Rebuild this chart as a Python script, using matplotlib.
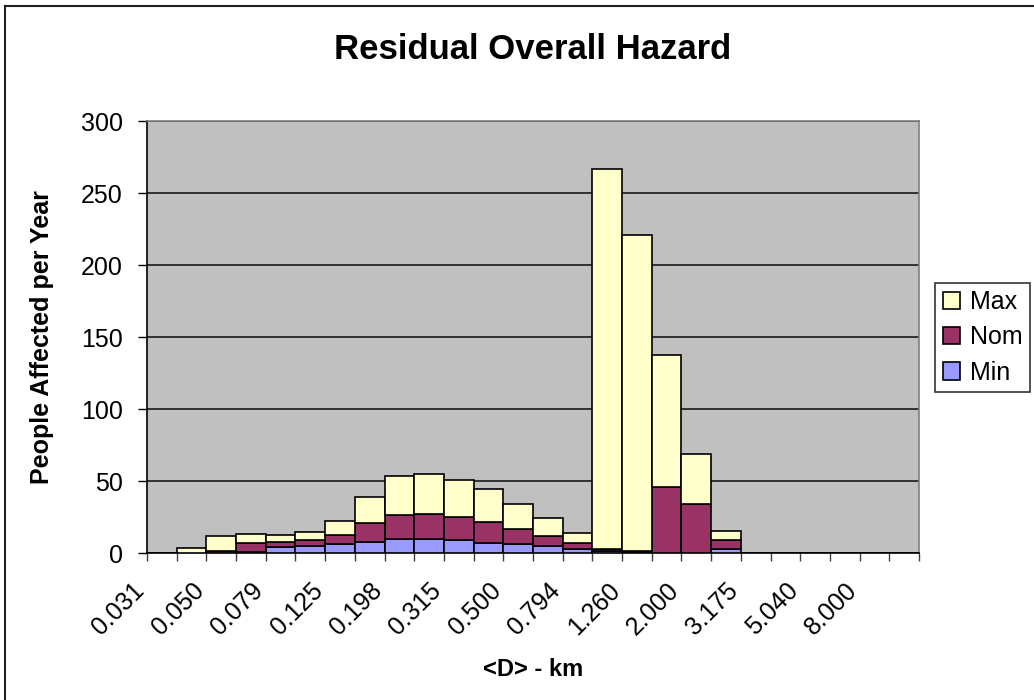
import numpy as np
import matplotlib
matplotlib.use("Agg")
import matplotlib.pyplot as plt
from matplotlib.lines import Line2D
from matplotlib.patches import Patch
from matplotlib.transforms import ScaledTranslation

plt.rcParams['font.family'] = ['Liberation Sans', 'DejaVu Sans']

# 26 distance bins (ratio 2^(1/3)); only every other bin is labelled
n_bins = 26
tick_labels = ['0.031', '0.050', '0.079', '0.125', '0.198', '0.315', '0.500',
               '0.794', '1.260', '2.000', '3.175', '5.040', '8.000']

# stacked segment heights, bottom to top
min_vals = [0, 0, 0.3, 0.9, 4.1, 5.3, 6.5, 7.6, 9.7, 9.7, 9.0, 7.1, 6.2,
            4.8, 2.8, 1.4, 0.9, 0, 0, 2.8, 0, 0, 0, 0, 0, 0]
nom_vals = [0, 0, 1.5, 6.2, 4.0, 3.7, 6.2, 13.1, 16.6, 17.3, 16.3, 14.6, 10.6,
            7.0, 4.1, 1.6, 0.9, 46.1, 34.3, 6.2, 0, 0, 0, 0, 0, 0]
max_vals = [0, 3.5, 10.0, 6.5, 4.6, 5.5, 9.9, 18.2, 27.2, 28.1, 25.7, 23.0, 17.5,
            12.9, 7.4, 263.5, 219.0, 91.7, 34.8, 6.4, 0, 0, 0, 0, 0, 0]

colors = {'Max': '#FFFFCC', 'Nom': '#993366', 'Min': '#9999FF'}

fig = plt.figure(figsize=(10.34, 7.0), dpi=100)
ax = fig.add_axes([0.1422, 0.2096, 0.7466, 0.6175])
ax.set_facecolor('#C0C0C0')

x = np.arange(n_bins) + 0.5
mn = np.array(min_vals)
nm = np.array(nom_vals)
mx = np.array(max_vals)
kw = dict(width=1.0, edgecolor='black', linewidth=1.2, zorder=3)
ax.bar(x, mn, color=colors['Min'], **kw)
ax.bar(x, nm, bottom=mn, color=colors['Nom'], **kw)
ax.bar(x, mx, bottom=mn + nm, color=colors['Max'], **kw)

ax.set_xlim(0, n_bins)
ax.set_ylim(0, 300)
ax.set_yticks(np.arange(0, 301, 50))
ax.yaxis.grid(True, color='#1a1a1a', linewidth=1.2)
ax.set_axisbelow(True)

# category boundaries get the tick marks, labels sit on bin centres
ax.set_xticks(np.arange(0, n_bins + 1))
ax.set_xticklabels([])
ax.set_xticks(np.arange(0, n_bins, 2) + 0.5, minor=True)
ax.set_xticklabels(tick_labels, minor=True, rotation=45, ha='right',
                   va='center', rotation_mode='anchor', fontsize=18)
ax.tick_params(axis='x', which='major', direction='out', length=6,
               width=1, color='#404040')
ax.tick_params(axis='x', which='minor', length=0, pad=24)
ax.tick_params(axis='y', direction='out', length=6.5, width=1,
               color='black', labelsize=18, pad=11)

# excel-style rotated labels end a bit left of the bin centre
shift = ScaledTranslation(-0.21, 0, fig.dpi_scale_trans)
for lab in ax.get_xticklabels(minor=True):
    lab.set_transform(lab.get_transform() + shift)

for side in ['left', 'bottom']:
    ax.spines[side].set_color('black')
    ax.spines[side].set_linewidth(1.2)
for side in ['top', 'right']:
    ax.spines[side].set_color('#808080')
    ax.spines[side].set_linewidth(1.2)

fig.text(0.5155, 0.929, 'Residual Overall Hazard', ha='center', va='center',
         fontsize=25, fontweight='bold')
fig.text(0.041, 0.518, 'People Affected per Year', ha='center', va='center',
         rotation=90, fontsize=18, fontweight='bold')
fig.text(0.5155, 0.043, '<D> - km', ha='center', va='center',
         fontsize=17, fontweight='bold')

handles = [Patch(facecolor=colors[k], edgecolor='black', linewidth=1.2)
           for k in ['Max', 'Nom', 'Min']]
leg = fig.legend(handles, ['Max', 'Nom', 'Min'], loc='upper left',
                 bbox_to_anchor=(0.9043, 0.5961), fontsize=18,
                 frameon=True, fancybox=False, borderpad=0.3,
                 handlelength=0.68, handleheight=0.68, handletextpad=0.4,
                 labelspacing=0.45, borderaxespad=0)
leg.get_frame().set_edgecolor('black')
leg.get_frame().set_linewidth(1.2)

# chart area frame (only left and top edges are visible in the crop)
fig.add_artist(Line2D([5 / 1034, 5 / 1034], [0, 1 - 6 / 700],
                      transform=fig.transFigure, color='#202020', lw=1.5))
fig.add_artist(Line2D([5 / 1034, 1], [1 - 6 / 700, 1 - 6 / 700],
                      transform=fig.transFigure, color='#202020', lw=1.5))

fig.savefig('out.png', dpi=100)
